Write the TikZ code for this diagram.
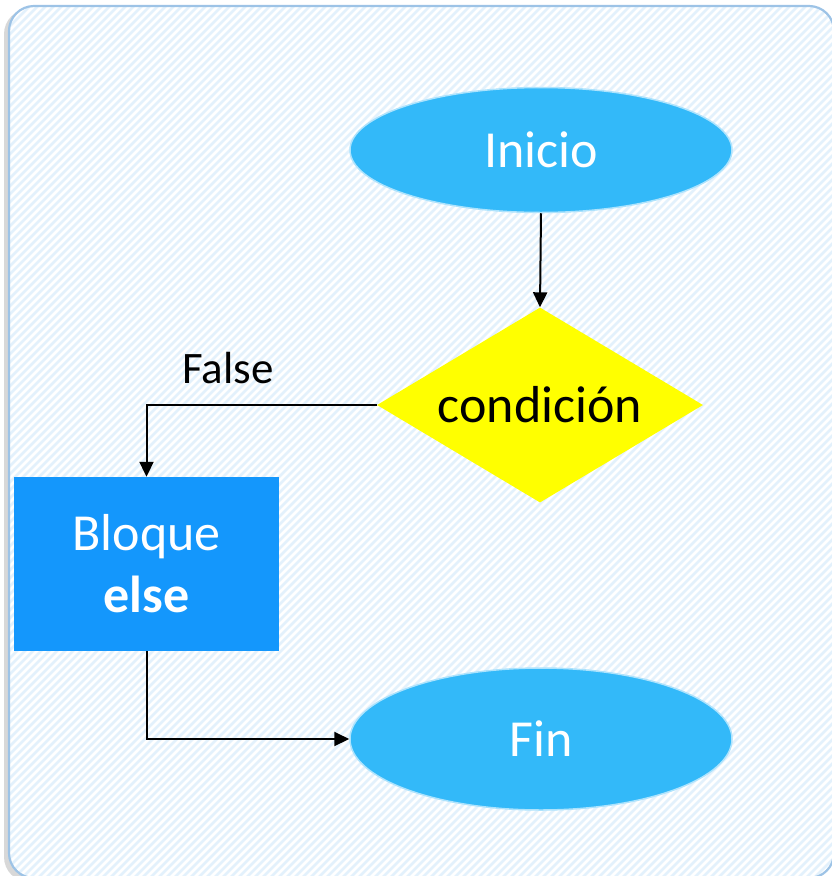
\documentclass[tikz,border=0pt]{standalone}
\usepackage{fontspec}
\setmainfont{Carlito}
\usetikzlibrary{shapes.geometric,arrows.meta}
\definecolor{frameblue}{HTML}{9DC3E6}
\definecolor{stripe}{HTML}{E3F1FC}
\definecolor{ellblue}{HTML}{33B9F9}
\definecolor{boxblue}{HTML}{1497FC}
\definecolor{condyellow}{HTML}{FFFF00}
\tikzset{
  terminal/.style={ellipse, fill=ellblue, draw=ellblue!40, line width=1.5, minimum width=382, minimum height=125, inner sep=0, text=white, font=\fontsize{52}{62}\selectfont},
  decision/.style={diamond, fill=condyellow, minimum width=326, minimum height=195, inner sep=0},
  process/.style={rectangle, fill=boxblue, minimum width=265, minimum height=174, inner sep=0, text=white, align=center, font=\fontsize{52}{62}\selectfont},
  lbl/.style={font=\fontsize{45}{52}\selectfont, text=black},
  arr/.style={draw=black, line width=2, -{Triangle[length=15,width=14]}}
}
\begin{document}
\begin{tikzpicture}[x=1pt,y=-1pt]
\useasboundingbox (0,0) rectangle (832,876);
% shadow
\fill[black!30, opacity=0.5, rounded corners=25] (4,9) rectangle (830,882);
\begin{scope}
  \clip[rounded corners=25] (9,6) rectangle (834,878);
  \fill[white] (0,0) rectangle (840,880);
  \foreach \i in {-900,-892,...,900} \draw[stripe, line width=2.6] (\i,880) -- ++(880,-880);
\end{scope}
\draw[frameblue, line width=2.2, rounded corners=25] (9,6) rectangle (834,878);

\node[terminal] (inicio) at (541,150) {Inicio};
\node[decision, label={[font=\fontsize{52}{62}\selectfont, text=black]center:condición}] (cond) at (540,405) {};
\node[process] (bloque) at (146.5,564) {Bloque\\\textbf{else}};
\node[terminal, minimum height=142] (fin) at (541,739) {Fin};
\node[lbl] (false) at (228,368) {False};

\draw[arr] (inicio.south) -- (cond.north);
\draw[arr] (cond.west) -| (bloque.north);
\draw[arr] (bloque.south) |- (fin.west);
\end{tikzpicture}
\end{document}
